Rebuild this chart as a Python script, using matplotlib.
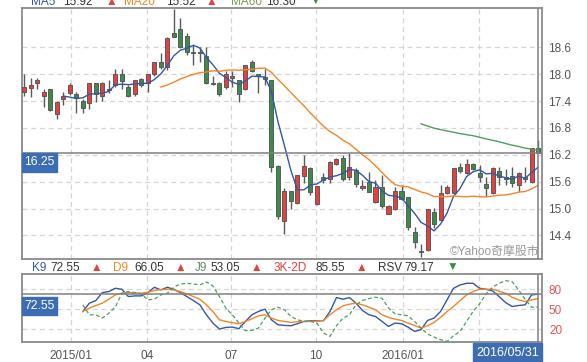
import numpy as np
import pandas as pd
import matplotlib
matplotlib.use('Agg')
import matplotlib.pyplot as plt
from matplotlib.patches import Rectangle

plt.rcParams['font.family'] = ['Liberation Sans', 'DejaVu Sans', 'Noto Sans CJK TC']

W, H = 587, 362

# weekly candles
opens = [17.60, 17.70, 17.80, 17.51, 17.66, 17.10, 17.45, 17.59, 17.56, 17.40,
         17.35, 17.80, 17.51, 17.65, 17.75, 18.00, 17.71, 17.55, 17.90, 17.80,
         18.00, 18.27, 18.15, 18.91, 19.00, 18.85, 18.49, 18.49, 18.41, 17.81,
         17.80, 17.72, 17.91, 17.87, 17.66, 18.27, 18.00, 17.94, 17.87, 15.95,
         14.73, 15.39, 15.13, 15.73, 15.90, 15.10, 15.70, 15.65, 15.99, 16.14,
         15.70, 15.86, 15.45, 15.60, 15.15, 15.49, 14.89, 14.98, 15.39, 15.25,
         14.48, 14.05, 14.08, 14.93, 14.75, 15.34, 15.35, 15.93, 15.79, 15.99,
         15.80, 15.55, 15.34, 15.85, 15.71, 15.73, 15.53, 15.70, 15.60, 16.35]
highs = [18.00, 17.91, 17.91, 17.66, 17.67, 17.40, 17.60, 17.80, 17.61, 17.45,
         17.80, 17.81, 17.82, 17.87, 18.11, 18.11, 17.75, 17.87, 17.91, 18.01,
         18.28, 18.47, 18.82, 19.45, 19.25, 18.91, 18.65, 18.61, 18.61, 17.95,
         17.82, 18.06, 18.06, 17.88, 18.21, 18.32, 18.01, 18.11, 17.88, 15.97,
         15.45, 15.40, 15.75, 16.20, 15.93, 15.51, 15.80, 16.06, 16.12, 16.20,
         16.23, 15.90, 15.64, 15.82, 15.64, 15.75, 15.07, 15.49, 15.53, 15.26,
         14.58, 14.22, 14.99, 15.01, 15.53, 15.53, 15.91, 16.01, 16.10, 16.01,
         15.97, 15.71, 15.93, 15.93, 15.88, 15.93, 15.82, 15.93, 16.36, 16.53]
lows = [17.51, 17.48, 17.68, 17.27, 17.18, 17.01, 17.32, 17.54, 17.13, 17.14,
        17.22, 17.39, 17.40, 17.59, 17.72, 17.68, 17.50, 17.51, 17.72, 17.61,
        17.97, 18.11, 18.10, 18.82, 18.58, 18.43, 18.20, 18.28, 17.78, 17.75,
        17.52, 17.67, 17.72, 17.37, 17.64, 18.05, 17.57, 17.76, 15.81, 14.77,
        14.43, 14.98, 15.11, 15.56, 15.30, 15.07, 15.56, 15.56, 15.97, 15.62,
        15.64, 15.49, 15.41, 15.37, 15.13, 15.01, 14.88, 14.97, 15.19, 14.52,
        14.11, 13.91, 14.06, 14.56, 14.73, 15.33, 15.34, 15.79, 15.77, 15.86,
        15.60, 15.27, 15.33, 15.53, 15.53, 15.49, 15.40, 15.60, 15.56, 16.24]
closes = [17.71, 17.75, 17.86, 17.60, 17.19, 17.39, 17.51, 17.75, 17.46, 17.25,
          17.80, 17.56, 17.80, 17.67, 18.00, 17.85, 17.51, 17.86, 17.76, 18.00,
          18.27, 18.15, 18.80, 18.84, 18.61, 18.50, 18.48, 18.48, 17.80, 17.79,
          17.55, 18.00, 17.96, 17.55, 18.20, 18.06, 17.97, 17.90, 15.93, 14.84,
          15.39, 15.18, 15.74, 15.95, 15.38, 15.50, 15.64, 16.05, 16.10, 15.65,
          15.93, 15.54, 15.50, 15.38, 15.49, 15.06, 15.06, 15.39, 15.21, 14.58,
          14.25, 14.04, 14.98, 14.66, 15.34, 15.49, 15.90, 15.85, 15.99, 15.88,
          15.71, 15.45, 15.90, 15.71, 15.66, 15.56, 15.80, 15.65, 16.35, 16.25]

# KD indicator, starting at week 9
kd_start = 9
k9 = [46.5, 59, 63, 75, 76.5, 81.5, 80, 69, 70, 70, 75, 83, 79, 83, 80, 75, 69, 63,
      56.5, 41.5, 29, 20, 22.5, 23, 20.5, 31.5, 41.5, 46.5, 50, 34, 26.5, 25.5, 25,
      28, 31.5, 32.5, 32.5, 32.5, 46.5, 67.5, 65, 67.5, 59, 48, 41.5, 39, 31.5, 24,
      29, 28, 23, 16.5, 19, 33, 36.5, 46.5, 64, 81.5, 86.5, 89, 89, 81.5, 80, 77.5,
      69, 60, 54, 55.5, 56.5, 71.5, 72.55]
d9 = [46.5, 51.5, 55.5, 59, 65, 71.5, 74, 75, 74.5, 74, 75.5, 78, 79.5, 80, 79, 76.5,
      73, 69, 65, 56.5, 46.5, 34, 31.5, 29.5, 28, 31.5, 35.5, 40, 41.5, 36.5, 33,
      31.5, 30, 31, 31.5, 31.5, 32, 33, 41.5, 49, 55, 57.5, 59, 56.5, 53, 49, 41.5,
      37.5, 35, 33, 29, 25.5, 21.5, 25, 30, 37.5, 46.5, 54, 63, 71.5, 76.5, 80, 80,
      80, 77, 74, 68, 64, 61.5, 64, 66.05]
j9 = [56.5, 41.5, 41.5, 36.5, 44, 53, 74, 76.5, 75, 73, 64, 65, 71.5, 74, 83, 88, 89,
      88, 86.5, 91, 85, 69, 51.5, 41.5, 29, 17.5, 18, 21.5, 36.5, 49, 53, 49, 39, 34,
      31.5, 31.5, 29, 14, 9, 25, 36.5, 41.5, 56.5, 63, 66, 68, 66.5, 51.5, 43, 41.5,
      40, 31.5, 21.5, 12.5, 8, 4, 1.5, 10, 16.5, 31.5, 46.5, 58, 73, 83, 89, 93, 91.5,
      79, 65, 53, 53.05]

month_pos = [7.14, 18.91, 31.74, 44.86, 58.19, 69.97]
month_labels = ['2015/01', '04', '07', '10', '2016/01', '']  # last one sits under the date box
price_ticks = [14.4, 15.0, 15.6, 16.2, 16.8, 17.4, 18.0, 18.6]
kd_ticks = [20, 50, 80]
last_price = '16.25'
last_k = '72.55'
last_date = '2016/05/31'

RED = '#e5403f'
GREEN = '#3b8b4b'
BLUE = '#3358a8'
ORANGE = '#f58426'
MA60C = '#4f9e5e'
BOX = '#3c6db4'
FRAME = '#8a8a8a'
GRID = '#d6d6d6'


def fx(x):
    return x / W


def fy(y):
    return 1 - y / H


fig = plt.figure(figsize=(W / 100, H / 100), dpi=100)
ax = fig.add_axes([fx(22), fy(259), 520 / W, (259 - 8.3) / H])
kd = fig.add_axes([fx(22), fy(342), 520 / W, (342 - 274) / H])

x = np.arange(len(closes))
o = np.array(opens)
c = np.array(closes)
cols = np.where(c >= o, RED, GREEN)
ax.vlines(x, lows, highs, color='#5a5a5a', lw=1, zorder=2)
ax.bar(x, np.abs(c - o), bottom=np.minimum(o, c), width=0.62, color=cols,
       edgecolor='#5a5a5a', lw=0.7, zorder=3)

cs = pd.Series(closes)
for n, col in [(5, BLUE), (20, ORANGE), (60, MA60C)]:
    ma = cs.rolling(n).mean()
    ma[:n + 1] = np.nan
    ax.plot(x, ma, color=col, lw=1, zorder=4)

ax.set_xlim(-0.35, 79.6)
ax.set_ylim(13.875, 19.47)
ax.set_xticks(month_pos)
ax.set_yticks(price_ticks)
ax.set_yticklabels([f'{t:.1f}' for t in price_ticks])
ax.yaxis.tick_right()
ax.tick_params(axis='x', labelbottom=False, length=0)
ax.tick_params(axis='y', length=0, pad=4.5, labelsize=8.5, labelcolor='#555555')
ax.grid(color=GRID, ls=(0, (4, 3)), lw=0.9, zorder=0)
ax.axhline(float(last_price), color='#808080', lw=1.1, zorder=5)
ax.axvline(x[-1], color='#808080', lw=1.1, zorder=5)

kx = np.arange(kd_start, kd_start + len(k9))
kd.plot(kx, k9, color=BLUE, lw=1, zorder=4)
kd.plot(kx, d9, color=ORANGE, lw=1, zorder=4)
kd.plot(kx, j9, color=MA60C, lw=0.9, ls=(0, (3, 2)), zorder=4)
kd.set_xlim(-0.35, 79.6)
kd.set_ylim(0.5, 103)
kd.set_xticks(month_pos)
kd.set_xticklabels(month_labels)
kd.set_yticks(kd_ticks)
kd.yaxis.tick_right()
kd.tick_params(axis='x', length=0, pad=5.8, labelsize=8.5, labelcolor='#555555')
kd.tick_params(axis='y', length=0, pad=5, labelsize=8.5, labelcolor='#e25555')
kd.grid(color=GRID, ls=(0, (4, 3)), lw=0.9, zorder=0)
kd.axhline(float(last_k), color='#808080', lw=1.1, zorder=5)
kd.axvline(x[-1], color='#808080', lw=1.1, zorder=5)

for a in (ax, kd):
    for s in a.spines.values():
        s.set_color(FRAME)
        s.set_linewidth(1.3)

# value boxes
for (bx, by, bw, bh, txt, fs) in [(22, 153, 35, 19, last_price, 8.7),
                                   (22, 297, 35, 18, last_k, 8.7),
                                   (473, 343, 69, 19, last_date, 9)]:
    fig.add_artist(Rectangle((fx(bx), fy(by + bh)), bw / W, bh / H,
                             transform=fig.transFigure, color=BOX, zorder=10))
    fig.text(fx(bx + bw / 2), fy(by + bh / 2), txt, color='white', fontsize=fs,
             ha='center', va='center', zorder=11)

fig.text(fx(539), fy(251.7), '©Yahoo奇摩股市', color='#9a9a9a', fontsize=8.6,
         ha='right', va='center', zorder=6)

# legend rows
top_row = [(30.7, 'MA5', BLUE), (63, '15.92', '#333333'), (106, '▲', RED),
           (124, 'MA20', ORANGE), (166, '15.52', '#333333'), (206, '▲', RED),
           (231, 'MA60', '#7a9a55'), (266, '16.30', '#333333'), (310, '▼', GREEN)]
for px, t, col in top_row:
    fig.text(fx(px), fy(4.7), t, color=col, fontsize=8.5, ha='left', va='baseline')

kd_row = [(32.3, 'K9', BLUE), (50.7, '72.55', '#333333'), (90.7, '▲', RED),
          (113.3, 'D9', ORANGE), (134, '66.05', '#333333'), (175, '▲', RED),
          (195, 'J9', '#5f8f5f'), (210, '53.05', '#333333'), (250.7, '▲', RED),
          (273.3, '3K-2D', RED), (316, '85.55', '#333333'), (356, '▲', RED),
          (378.3, 'RSV', '#333333'), (404, '79.17', '#333333'), (446.7, '▼', GREEN)]
for px, t, col in kd_row:
    fig.text(fx(px), fy(271), t, color=col, fontsize=8.5, ha='left', va='baseline')

fig.savefig('out.png', dpi=100)
